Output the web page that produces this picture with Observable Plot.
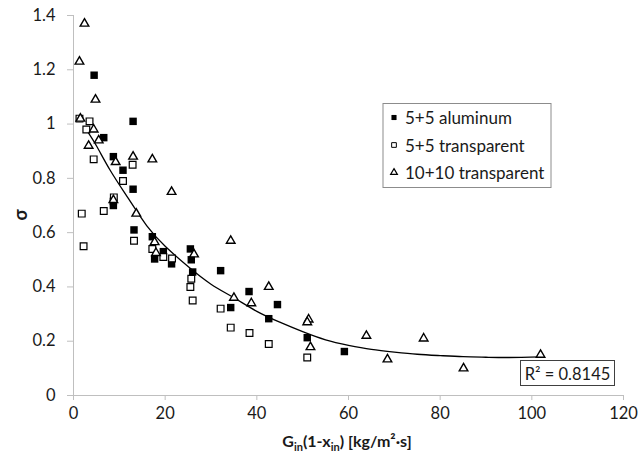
<!DOCTYPE html>
<html><head><meta charset="utf-8">
<script src="https://cdn.jsdelivr.net/npm/d3@7"></script>
<script src="https://cdn.jsdelivr.net/npm/@observablehq/plot@0.6"></script>
<style>
body{margin:0;background:#fff;}
#chart{position:relative;width:639px;height:458px;}
</style>
</head><body><div id="chart"></div>
<script>
// ---- data ----
const seriesNames = ["5+5 aluminum", "5+5 transparent", "10+10 transparent"];

const alumX = [4.5, 13, 6.6, 8.7, 10.8, 13, 8.7, 8.7, 13.2, 17.2, 17.7, 19.6, 21.4, 25.5, 25.7, 26, 32.1, 34.3, 38.3, 42.6, 44.5, 51, 59.1];
const alumY = [1.18, 1.01, 0.95, 0.88, 0.83, 0.76, 0.715, 0.70, 0.61, 0.585, 0.503, 0.53, 0.485, 0.54, 0.50, 0.455, 0.46, 0.324, 0.383, 0.283, 0.335, 0.213, 0.162];

const transX = [1.3, 3.5, 2.8, 4.4, 12.9, 10.8, 8.8, 6.6, 1.8, 13.2, 2.2, 17.2, 19.6, 21.5, 25.7, 25.5, 26, 32.1, 34.3, 38.4, 42.6, 51];
const transY = [1.02, 1.01, 0.98, 0.87, 0.85, 0.79, 0.73, 0.68, 0.67, 0.57, 0.55, 0.54, 0.51, 0.505, 0.43, 0.40, 0.35, 0.32, 0.25, 0.23, 0.19, 0.14];

const tri10X = [2.4, 1.3, 4.8, 1.5, 4.4, 5.5, 3.3, 9.2, 13, 17.2, 21.4, 8.7, 13.7, 17.7, 18, 26.3, 34.3, 35, 38.8, 42.6, 51.3, 51, 51.7, 63.9, 68.5, 76.4, 85.1, 101.9];
const tri10Y = [1.37, 1.23, 1.09, 1.02, 0.98, 0.94, 0.92, 0.86, 0.88, 0.87, 0.75, 0.72, 0.67, 0.565, 0.525, 0.52, 0.57, 0.36, 0.34, 0.40, 0.28, 0.27, 0.178, 0.22, 0.133, 0.21, 0.10, 0.15];

// trend line
const trendX = [2.6, 5, 8, 12, 16, 20, 25, 30, 35, 40, 45, 50, 55, 60, 65, 70, 75, 80, 85, 90, 95, 102];
const trendY = [0.984, 0.92, 0.83, 0.725, 0.625, 0.55, 0.475, 0.41, 0.36, 0.31, 0.27, 0.235, 0.205, 0.185, 0.17, 0.16, 0.152, 0.147, 0.143, 0.141, 0.140, 0.142];

const xTicks = [0, 20, 40, 60, 80, 100, 120];
const yTicks = [0, 0.2, 0.4, 0.6, 0.8, 1, 1.2, 1.4];
const yTickLabels = ["0", "0.2", "0.4", "0.6", "0.8", "1", "1.2", "1.4"];
const r2Text = "R² = 0.8145";

// ---- build ----
const zip = (xs, ys) => xs.map((x, i) => ({x, y: ys[i]}));
const alum = zip(alumX, alumY);
const trans = zip(transX, transY);
const tri10 = zip(tri10X, tri10Y);
const trend = zip(trendX, trendY);

const FONT = "Lato, 'Open Sans', sans-serif";
const TXT = "#1a1a1a";
const AX = "#bfbfbf";

const plot = Plot.plot({
  width: 639, height: 458,
  marginLeft: 73, marginRight: 16, marginTop: 15, marginBottom: 63,
  style: {fontFamily: FONT, fontSize: "16px", color: TXT, background: "#fff"},
  x: {domain: [0, 120], label: null},
  y: {domain: [0, 1.4], label: null},
  marks: [
    Plot.ruleX([0], {stroke: AX, strokeWidth: 1}),
    Plot.ruleY([0], {stroke: AX, strokeWidth: 1}),
    Plot.axisX({ticks: xTicks, tickSize: 5, tickPadding: 7, stroke: AX, fill: TXT, fontSize: 16.5, label: null, tickFormat: d => String(d)}),
    Plot.axisY({ticks: yTicks, tickSize: 6, tickPadding: 12, stroke: AX, fill: TXT, fontSize: 16.5, label: null, tickFormat: d => yTickLabels[yTicks.indexOf(d)]}),
    Plot.line(trend, {x: "x", y: "y", curve: "natural", stroke: "#000", strokeWidth: 1.3}),
    Plot.dot(alum, {x: "x", y: "y", symbol: "square", r: 4.2, fill: "#000", stroke: "none"}),
    Plot.dot(trans, {x: "x", y: "y", symbol: "square", r: 3.8, fill: "#fff", stroke: "#000", strokeWidth: 1.2}),
    Plot.dot(tri10, {x: "x", y: "y", symbol: "triangle", r: 3.2, fill: "#fff", stroke: "#000", strokeWidth: 1.4})
  ]
});

document.getElementById("chart").appendChild(plot);
const svg = d3.select(plot);

// x-axis title with subscripts
const xt = svg.append("text")
  .attr("x", 347).attr("y", 447)
  .attr("text-anchor", "middle")
  .attr("font-family", FONT).attr("font-weight", "bold").attr("font-size", 16).attr("fill", TXT);
xt.append("tspan").text("G");
xt.append("tspan").attr("font-size", 11).attr("dy", 4).text("in");
xt.append("tspan").attr("dy", -4).text("(1-x");
xt.append("tspan").attr("font-size", 11).attr("dy", 4).text("in");
xt.append("tspan").attr("dy", -4).text(") [kg/m²·s]");

// y-axis title
svg.append("text")
  .attr("transform", "translate(20,215) rotate(-90)")
  .attr("text-anchor", "middle").attr("dominant-baseline", "central")
  .attr("font-family", FONT).attr("font-weight", "bold").attr("font-size", 18).attr("fill", TXT)
  .text("σ");

// legend
const lg = svg.append("g");
lg.append("rect").attr("x", 383).attr("y", 103.5).attr("width", 168).attr("height", 84)
  .attr("fill", "#fff").attr("stroke", "#8c8c8c").attr("stroke-width", 1);
const rows = [117.5, 145, 172.5];
const legSym = [
  {sym: d3.symbolSquare, size: 26, fill: "#000", stroke: "none", sw: 0},
  {sym: d3.symbolSquare, size: 22, fill: "#fff", stroke: "#000", sw: 1},
  {sym: d3.symbolTriangle, size: 20, fill: "#fff", stroke: "#000", sw: 1.2}
];
seriesNames.forEach((name, i) => {
  const s = legSym[i];
  lg.append("path").attr("d", d3.symbol(s.sym, s.size)())
    .attr("transform", `translate(394,${rows[i]})`)
    .attr("fill", s.fill).attr("stroke", s.stroke).attr("stroke-width", s.sw);
  lg.append("text").attr("x", 405).attr("y", rows[i]).attr("dominant-baseline", "central")
    .attr("text-anchor", "start")
    .attr("font-family", FONT).attr("font-size", 17).attr("fill", TXT).text(name);
});

// R² box
svg.append("rect").attr("x", 520.5).attr("y", 360.5).attr("width", 94).attr("height", 25)
  .attr("fill", "#fff").attr("stroke", "#404040").attr("stroke-width", 1);
svg.append("text").attr("x", 567.5).attr("y", 373.5).attr("text-anchor", "middle").attr("dominant-baseline", "central")
  .attr("font-family", FONT).attr("font-size", 16.5).attr("fill", TXT).text(r2Text);
</script>
</body></html>
